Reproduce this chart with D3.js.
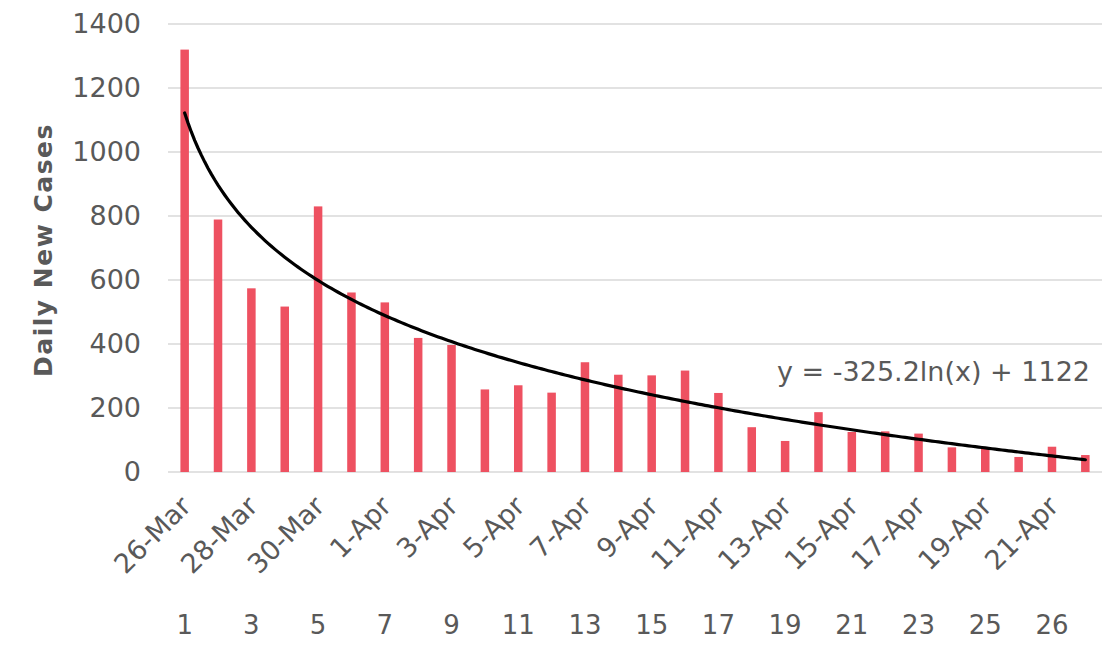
<!DOCTYPE html>
<html>
<head>
<meta charset="utf-8">
<script src="https://cdn.jsdelivr.net/npm/d3@7"></script>
<style>
  body { margin: 0; background: #fff; }
  svg text { font-family: "DejaVu Sans", sans-serif; fill: #595959; }
</style>
</head>
<body>
<div id="chart"></div>
<script>
"use strict";
// daily new cases, 26-Mar .. 22-Apr
const dates = ["26-Mar", "27-Mar", "28-Mar", "29-Mar", "30-Mar", "31-Mar", "1-Apr", "2-Apr",
    "3-Apr", "4-Apr", "5-Apr", "6-Apr", "7-Apr", "8-Apr", "9-Apr", "10-Apr", "11-Apr", "12-Apr",
    "13-Apr", "14-Apr", "15-Apr", "16-Apr", "17-Apr", "18-Apr", "19-Apr", "20-Apr", "21-Apr", "22-Apr"];
const cases = [1320, 789, 574, 517, 830, 561, 530, 419, 397, 258, 271, 248, 343, 304,
    302, 317, 247, 140, 97, 187, 125, 127, 120, 77, 73, 47, 79, 53];
// second row of x labels as printed on the chart (every other day)
const dayNumbers = ["1", "", "3", "", "5", "", "7", "", "9", "", "11", "", "13", "", "15", "",
    "17", "", "19", "", "21", "", "23", "", "25", "", "26", ""];
const yTicks = [0, 200, 400, 600, 800, 1000, 1200, 1400];
// logarithmic trendline shown on the chart
const trendSlope = -325.2,
    trendIntercept = 1122;

const width = 1114,
    height = 648;
const margin = { top: 24, right: 12, bottom: 176, left: 168 };

const svg = d3.select("#chart")
    .append("svg")
    .attr("width", width)
    .attr("height", height);

const plotW = width - margin.left - margin.right,
    plotH = height - margin.top - margin.bottom;

const g = svg.append("g")
    .attr("transform", `translate(${margin.left},${margin.top})`);

const xScale = d3.scaleBand()
    .domain(dates)
    .range([0, plotW])
    .paddingInner(0.745)
    .paddingOuter(0.372);

const yScale = d3.scaleLinear()
    .domain([0, 1400])
    .range([plotH, 0]);

const cx = d => xScale(d) + xScale.bandwidth() / 2;

// gridlines
g.append("g")
    .selectAll("line")
    .data(yTicks)
    .join("line")
    .attr("x1", 0)
    .attr("x2", plotW)
    .attr("y1", d => yScale(d))
    .attr("y2", d => yScale(d))
    .attr("stroke", "#d9d9d9")
    .attr("stroke-width", 1.5);

// y axis labels
const yAxis = g.append("g")
    .call(d3.axisLeft(yScale).tickValues(yTicks).tickFormat(d3.format("d"))
        .tickSize(0).tickPadding(27));
yAxis.select(".domain").remove();
yAxis.selectAll("text")
    .style("font-size", "27px")
    .attr("fill", "#595959");

// bars
g.append("g")
    .selectAll("rect")
    .data(cases)
    .join("rect")
    .attr("x", (d, i) => xScale(dates[i]))
    .attr("y", d => yScale(d))
    .attr("width", xScale.bandwidth())
    .attr("height", d => plotH - yScale(d))
    .attr("fill", "#ee5161");

// date labels (every other)
const xAxis = g.append("g")
    .attr("transform", `translate(0,${plotH})`)
    .call(d3.axisBottom(xScale)
        .tickValues(dates.filter((d, i) => i % 2 === 0))
        .tickSize(0)
        .tickPadding(0));
xAxis.select(".domain").remove();
xAxis.selectAll("text")
    .style("font-size", "27px")
    .attr("fill", "#595959")
    .attr("text-anchor", "end")
    .attr("dy", "0")
    .attr("transform", "translate(8,36) rotate(-45)");

// day number row
g.append("g")
    .selectAll("text")
    .data(dayNumbers)
    .join("text")
    .attr("x", (d, i) => cx(dates[i]))
    .attr("y", plotH + 162)
    .attr("text-anchor", "middle")
    .style("font-size", "26px")
    .text(d => d);

// trendline, drawn from day 1 to the last day
const dayScale = d3.scaleLinear()
    .domain([1, dates.length])
    .range([cx(dates[0]), cx(dates[dates.length - 1])]);

const line = d3.line()
    .x(d => dayScale(d))
    .y(d => yScale(trendSlope * Math.log(d) + trendIntercept));

g.append("path")
    .datum(d3.range(1, dates.length + 0.001, 0.1))
    .attr("d", line)
    .attr("fill", "none")
    .attr("stroke", "#000")
    .attr("stroke-width", 3.2)
    .attr("stroke-linecap", "round");

g.append("text")
    .attr("x", plotW - 12)
    .attr("y", yScale(285))
    .attr("text-anchor", "end")
    .style("font-size", "27px")
    .text(`y = ${trendSlope}ln(x) + ${trendIntercept}`);

// y axis title
svg.append("text")
    .attr("transform", `translate(52,${margin.top + plotH / 2 + 2}) rotate(-90)`)
    .attr("text-anchor", "middle")
    .style("font-size", "25px")
    .style("font-weight", "bold")
    .style("letter-spacing", "1.5px")
    .text("Daily New Cases");
</script>
</body>
</html>
